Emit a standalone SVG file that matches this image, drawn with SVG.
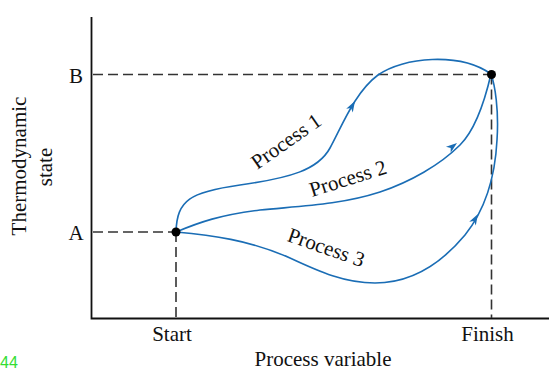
<svg xmlns="http://www.w3.org/2000/svg" width="549" height="371" viewBox="0 0 549 371">
<style>
.t{font-family:"Liberation Serif","Times New Roman",serif;font-size:21px;fill:#111}
.ax{stroke:#111;stroke-width:1.8;fill:none}
.dash{stroke:#333;stroke-width:1.6;stroke-dasharray:10 5;fill:none}
.curve{stroke:#1a6db5;stroke-width:1.6;fill:none}
.arr{fill:#1a6db5}
</style>
<defs>
<path id="ah" d="M0,0 L-11,-3.8 L-8,0 L-11,3.8 Z"/>
</defs>
<rect width="549" height="371" fill="#fff"/>
<g id="axes">
<path class="ax" d="M91.5,17 V318.5 H549"/>
</g>
<g id="guides">
<path class="dash" d="M93,232 H176 M176,232 V318"/>
<path class="dash" d="M93,74.5 H491 M491.5,74.5 V318"/>
</g>
<g id="connectors">
<path id="process1" class="curve" d="M176,232 C177,200 190,192 240,185 C290,178 318,170 330,148 C342,126 355,92 378,75 C403,57 460,52 491,74"/>
<path id="process2" class="curve" d="M176,232 C200,222 220,215 260,210 C300,206 340,205 380,192 C410,182 440,165 460,145 C475,130 485,100 491,74"/>
<path id="process3" class="curve" d="M176,232 C210,235 250,240 290,258 C320,272 345,283 375,283 C410,283 440,265 465,235 C485,210 495,180 497,140 C499,110 495,85 491,74"/>
<use href="#ah" class="arr" transform="translate(355,101) rotate(-60)"/>
<use href="#ah" class="arr" transform="translate(457,143) rotate(-38)"/>
<use href="#ah" class="arr" transform="translate(478,214) rotate(-60)"/>
</g>
<g id="nodeA">
<circle cx="176" cy="232" r="4.5" fill="#000"/>
<text class="t" x="76" y="240" text-anchor="middle">A</text>
</g>
<g id="nodeB">
<circle cx="491.5" cy="74.5" r="4.5" fill="#000"/>
<text class="t" x="76" y="83" text-anchor="middle">B</text>
</g>
<g id="labels">
<text class="t" text-anchor="middle" transform="translate(290,147) rotate(-35)">Process 1</text>
<text class="t" text-anchor="middle" transform="translate(350,185) rotate(-17.5)">Process 2</text>
<text class="t" text-anchor="middle" transform="translate(324,254) rotate(19.5)">Process 3</text>
<text class="t" text-anchor="middle" transform="translate(26,166) rotate(-90)">Thermodynamic</text>
<text class="t" text-anchor="middle" transform="translate(52,167) rotate(-90)">state</text>
<text class="t" x="172" y="341" text-anchor="middle">Start</text>
<text class="t" x="487.5" y="341" text-anchor="middle">Finish</text>
<text class="t" x="323" y="366" text-anchor="middle">Process variable</text>
<text x="0" y="368" font-family="Liberation Sans, Arial, sans-serif" font-size="16" fill="#33dd33">44</text>
</g>
</svg>
